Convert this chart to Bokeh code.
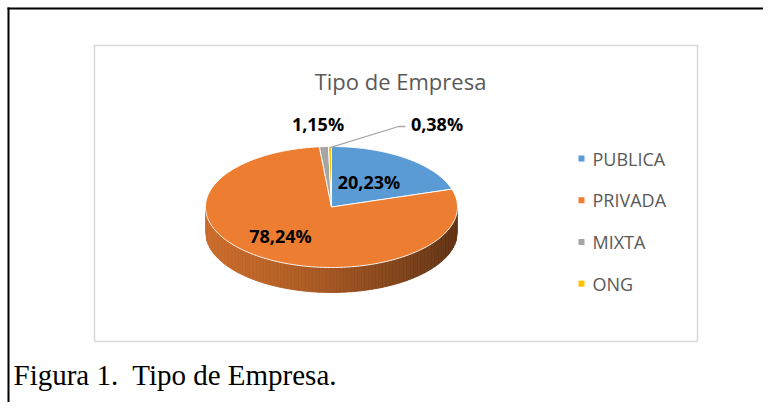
import numpy as np
from bokeh.plotting import figure
from bokeh.models import Range1d
from bokeh.core.properties import value
from bokeh.embed import file_html
from bokeh.resources import INLINE

# ---------------- data ----------------
categories = ["PUBLICA", "PRIVADA", "MIXTA", "ONG"]
values = [20.23, 78.24, 1.15, 0.38]
colors = ["#5B9BD5", "#ED7D31", "#A5A5A5", "#FFC000"]
chart_title = "Tipo de Empresa"
caption = "Figura 1.\u00a0 Tipo de Empresa."

# ---------------- layout (pixels) ----------------
W, H = 763, 402

cx, cy, rx, ry, depth = 331.0, 206.5, 126.0, 60.5, 25.0
label_pos = [(368.5, 181.5), (280, 235), (317.5, 123.5), (436.5, 123.5)]
leader_knee = (398, 126)
leader_end = (405, 126)
legend_x, legend_y0, legend_dy = 581, 158, 41.7

p = figure(width=W, height=H, x_range=Range1d(0, W), y_range=Range1d(H, 0),
           output_backend="svg", toolbar_location=None, min_border=0)
p.axis.visible = False
p.grid.visible = False
p.outline_line_color = None
p.background_fill_color = "white"
p.border_fill_color = "white"

# outer document frame (top and left edges)
p.line([7, W], [8, 8], line_color="black", line_width=2)
p.line([8, 8], [7, H], line_color="black", line_width=2)

# chart area box
p.quad(left=[94], right=[697], top=[45], bottom=[341],
       fill_color=None, line_color="#D9D9D9", line_width=1.5)

# title
p.text(x=[400], y=[80], text=[chart_title], text_font=value("Open Sans"),
       text_font_size="22px", text_color="#595959", text_align="center",
       text_baseline="middle")

# ---------------- pie geometry from values ----------------
vals = np.array(values, dtype=float)
frac = vals / vals.sum()
ends = np.cumsum(frac) * 2 * np.pi
starts = np.concatenate([[0.0], ends[:-1]])


def ell(theta, scale=1.0):
    return cx + rx * scale * np.sin(theta), cy - ry * scale * np.cos(theta)


def slice_at(theta):
    for i in range(len(vals)):
        if starts[i] <= theta <= ends[i]:
            return i
    return len(vals) - 1


def shade(hexc, f):
    r = int(hexc[1:3], 16); g = int(hexc[3:5], 16); b = int(hexc[5:7], 16)
    return "#%02x%02x%02x" % (int(r * f), int(g * f), int(b * f))


# side (front half of the cylinder)
u = np.linspace(-1, 1, 181)
sx = cx + rx * u
syt = cy + ry * np.sqrt(np.clip(1 - u ** 2, 0, None))
side_xs, side_ys, side_c = [], [], []
for i in range(len(u) - 1):
    um = 0.5 * (u[i] + u[i + 1])
    theta = np.pi - np.arcsin(um)
    k = slice_at(theta)
    t = (um + 1) / 2
    f = 0.85 - 0.45 * t ** 1.4
    side_xs.append([sx[i], sx[i + 1], sx[i + 1], sx[i]])
    side_ys.append([syt[i], syt[i + 1], syt[i + 1] + depth, syt[i] + depth])
    side_c.append(shade(colors[k], f))
p.patches(side_xs, side_ys, fill_color=side_c, line_color=side_c, line_width=0.8)

# top faces
top_xs, top_ys = [], []
for i in range(len(vals)):
    n = max(4, int(200 * frac[i]))
    th = np.linspace(starts[i], ends[i], n)
    ex, ey = ell(th)
    top_xs.append([cx] + list(ex))
    top_ys.append([cy] + list(ey))
p.patches(top_xs, top_ys, fill_color=colors, line_color="white", line_width=0.9)

# leader line for the smallest slice
mid_last = 0.5 * (starts[-1] + ends[-1])
lx0, ly0 = ell(mid_last, 0.98)
p.line([lx0, leader_knee[0], leader_end[0]],
       [ly0, leader_knee[1], leader_end[1]],
       line_color="#A6A6A6", line_width=1.3)

# data labels
lab = [("%.2f%%" % v).replace(".", ",") for v in values]
p.text(x=[a for a, b in label_pos], y=[b for a, b in label_pos], text=lab,
       text_font=value("Open Sans"), text_font_style="bold", text_font_size="18px",
       text_color="#000000", text_align="center", text_baseline="middle")

# legend
ly = [legend_y0 + i * legend_dy for i in range(len(categories))]
p.scatter(x=[legend_x] * len(categories), y=ly, marker="square", size=6,
          fill_color=colors, line_color=None)
p.text(x=[legend_x + 11] * len(categories), y=ly, text=categories,
       text_font=value("Open Sans"), text_font_size="18px", text_color="#595959",
       text_align="left", text_baseline="middle")

# caption
p.text(x=[13], y=[374], text=[caption], text_font=value("Liberation Serif"),
       text_font_size="29px", text_color="#000000", text_align="left",
       text_baseline="middle")

open("out.html", "w").write(file_html(p, INLINE))
